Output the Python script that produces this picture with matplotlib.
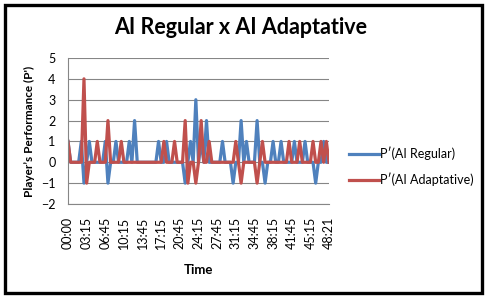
import matplotlib.pyplot as plt
from matplotlib.patches import Rectangle

plt.rcParams['font.family'] = ['Lato', 'DejaVu Sans']

# one point every ~30 s, 99 categories
time_labels = ["00:00", "03:15", "06:45", "10:15", "13:45", "17:15", "20:45", "24:15",
               "27:45", "31:15", "34:45", "38:15", "41:45", "45:15", "48:21"]

ai_regular = [1, 0, 0, 0, 0, 1, -1, 0, 1, 0,
              0, 0, 0, 0, 1, -1, 0, 0, 1, 0,
              0, 0, 0, 1, 0, 2, 0, 0, 0, 0,
              0, 0, 0, 0, 1, 0, 0, 1, 0, 0,
              0, 0, 0, 0, -1, 0, 1, 0, 3, 0,
              1, 0, 2, 0, 0, 0, 0, 0, 1, 0,
              0, 0, -1, 0, 0, 2, 0, 1, 0, 0,
              0, 2, 0, 0, -1, 0, 0, 1, 0, 0,
              1, 0, 0, 0, 0, 1, 0, 0, 0, 1,
              0, 0, 0, -1, 0, 0, 1, 0, 0]

ai_adaptative = [1, 0, 0, 0, 0, 0, 4, -1, 0, 0,
                 0, 1, 0, 0, 0, 2, 0, 0, 0, 0,
                 1, 0, 0, 0, 0, 0, 0, 0, 0, 0,
                 0, 0, 0, 0, 0, 0, 1, 0, 0, 0,
                 1, 0, 0, 0, 2, -1, 0, 0, -1, 0,
                 2, 0, 0, 1, 0, 0, 0, 0, 0, 0,
                 0, 0, 0, 1, 0, -1, 0, 0, 0, 0,
                 0, -1, 0, 1, 0, 0, 0, 0, 0, 0,
                 0, 0, 0, 1, 0, 0, 0, 1, 0, 0,
                 0, 0, 1, 0, 0, 1, 0, 1, 0]

x = list(range(len(ai_regular)))
label_step = 7

fig = plt.figure(figsize=(4.86, 2.97), dpi=100)
ax = fig.add_axes([68/486, 1 - 204/297, (329 - 68)/486, (204 - 58)/297])

ax.plot(x, ai_regular, color='#4F81BD', lw=2.3, label='P\u02b9(AI Regular)')
ax.plot(x, ai_adaptative, color='#C0504D', lw=2.3, label='P\u02b9(AI Adaptative)')

ax.set_xlim(0, len(x) - 1)
ax.set_ylim(-2, 5)
ax.set_yticks(range(-2, 6))
ax.set_xticks(x[::label_step])
ax.set_xticklabels(time_labels, rotation=90)
ax.tick_params(length=0, labelsize=9)
ax.tick_params(axis='y', pad=9)
ax.tick_params(axis='x', pad=9)
ax.grid(axis='y', color='#868686', lw=0.8)
ax.set_axisbelow(True)
for s in ['top', 'right']:
    ax.spines[s].set_visible(False)
for s in ['left', 'bottom']:
    ax.spines[s].set_color('#868686')
    ax.spines[s].set_linewidth(0.8)

ax.set_xlabel('Time', fontsize=9.5, fontweight='bold', labelpad=11)
ax.set_ylabel('Player\u2019s Performance (P\')', fontsize=8.5, fontweight='bold', labelpad=4)

fig.text(241/486, 1 - 28/297, 'AI Regular x AI Adaptative', fontsize=15.5,
         fontweight='bold', ha='center', va='center')

fig.legend(loc='center left', bbox_to_anchor=(349/486, 1 - 166.5/297), frameon=False,
           fontsize=9, handlelength=2.4, handletextpad=0.1, labelspacing=1.0,
           borderpad=0, borderaxespad=0)

fig.patches.append(Rectangle((4.5/486, 4.5/297), 477/486, 288/297, transform=fig.transFigure,
                             fill=False, edgecolor='black', lw=2.4))

fig.savefig('out.png', dpi=100)
